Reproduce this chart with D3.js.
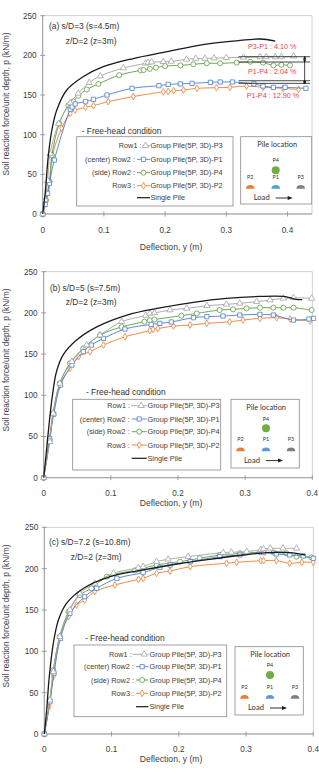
<!DOCTYPE html>
<html>
<head>
<meta charset="utf-8">
<script src="https://cdn.jsdelivr.net/npm/d3@7"></script>
<style>
  body { margin: 0; background: #fff; }
  svg { display: block; font-family: "Liberation Sans", Arial, sans-serif; }
</style>
</head>
<body>
<svg id="chart" width="319" height="774"></svg>
<script>
// ---- data: [deflection y (m), p (kN/m)] ----
const aSingle = [[0,0],[0.004,26],[0.009,72],[0.015,106],[0.023,131],[0.039,156],[0.066,173],[0.099,185.7],[0.148,196],[0.203,204.6],[0.257,213],[0.312,218],[0.355,220.6],[0.38,218]];
const aP3 = [[0,0],[0.004,18],[0.008,42],[0.012,76],[0.026,114],[0.045,140],[0.058,152],[0.076,165.5],[0.094,174],[0.132,184],[0.168,190],[0.172,191],[0.178,191.5],[0.197,192],[0.21,192.4],[0.235,195],[0.25,196],[0.265,196],[0.28,196.5],[0.30,197],[0.328,197.5],[0.355,198],[0.365,198],[0.38,198],[0.39,198],[0.41,199]];
const aP1 = [[0,0],[0.004,12],[0.008,26],[0.011,38.7],[0.019,68],[0.045,132],[0.048,135],[0.053,138.7],[0.07,141.6],[0.083,144.5],[0.105,150],[0.146,158.4],[0.19,161.8],[0.205,163.4],[0.225,164],[0.244,164.7],[0.274,166],[0.29,166.4],[0.31,166.4],[0.345,164],[0.36,161.3],[0.377,159.7],[0.396,159.7],[0.43,158.4]];
const aP4 = [[0,0],[0.005,17],[0.011,41],[0.015,74],[0.027,114],[0.042,137],[0.046,139],[0.05,142],[0.058,149],[0.072,157],[0.091,164],[0.125,175],[0.16,181],[0.165,181.5],[0.175,183],[0.185,184.5],[0.2,186.5],[0.225,187.4],[0.246,188.7],[0.268,190],[0.29,190],[0.317,190.8],[0.339,192],[0.36,190.8],[0.377,187.4],[0.39,188],[0.404,187.4]];
const aP2 = [[0,0],[0.007,17.6],[0.012,40.8],[0.016,74.4],[0.031,108],[0.045,127],[0.053,131],[0.07,134.5],[0.083,136.6],[0.107,141.6],[0.148,148],[0.197,154],[0.205,154.5],[0.214,155.5],[0.23,156.3],[0.252,158.4],[0.284,159.2],[0.306,159.7],[0.333,161.3],[0.36,159.7],[0.393,158.4],[0.418,157]];

const bSingle = [[0,0],[0.0035,27.5],[0.0084,68],[0.013,100],[0.019,128.6],[0.029,149],[0.049,167],[0.079,183],[0.124,197.4],[0.173,206],[0.223,212.8],[0.272,217.6],[0.322,220],[0.357,220],[0.374,216.8],[0.385,216]];
const bP3 = [[0,0],[0.009,43.7],[0.014,78],[0.024,114.5],[0.042,140.8],[0.064,161],[0.084,173],[0.116,189.3],[0.152,197],[0.158,199.4],[0.165,200],[0.188,203.5],[0.213,205.5],[0.243,208.7],[0.272,210.4],[0.292,211.6],[0.317,213.6],[0.337,215.6],[0.357,217.6],[0.372,218.4],[0.399,217.6]];
const bP1 = [[0,0],[0.009,47.7],[0.015,77],[0.025,112.5],[0.042,136.7],[0.059,153],[0.071,161],[0.089,169],[0.121,180.4],[0.16,186],[0.173,187.3],[0.19,189],[0.223,194.2],[0.243,195.4],[0.267,196.2],[0.292,197.4],[0.322,198.2],[0.342,197.4],[0.372,191.3],[0.395,192.5],[0.402,193.4]];
const bP4 = [[0,0],[0.009,45.7],[0.014,78],[0.024,114.5],[0.039,138.8],[0.059,157],[0.084,173],[0.116,183],[0.15,189.3],[0.158,191],[0.165,192],[0.205,196.6],[0.228,199.4],[0.262,203.5],[0.282,204.3],[0.302,205.5],[0.322,206.3],[0.342,206.3],[0.357,206.3],[0.372,206.3],[0.399,203.5]];
const bP2 = [[0,0],[0.008,45.7],[0.014,78],[0.024,112.5],[0.039,132.7],[0.052,146.8],[0.069,153],[0.089,161],[0.121,171],[0.158,178.5],[0.163,180],[0.17,181],[0.193,184],[0.218,185.3],[0.243,187.3],[0.277,189.3],[0.297,191.3],[0.322,193.4],[0.347,194.2],[0.367,192.6],[0.397,190.1]];

const cSingle = [[0,0],[0.0035,29],[0.0074,69.4],[0.0134,109.7],[0.021,137.9],[0.033,158],[0.058,176],[0.098,190.3],[0.147,198.4],[0.197,205.6],[0.246,211.3],[0.296,216.5],[0.331,219.4],[0.365,219.4],[0.388,216.5]];
const cP3 = [[0,0],[0.0084,41],[0.0134,75.4],[0.023,117.7],[0.038,150],[0.053,170],[0.075,182.3],[0.103,194.4],[0.14,201],[0.147,202.4],[0.167,208.5],[0.184,211.3],[0.214,214.5],[0.266,219.4],[0.278,219.8],[0.301,220.6],[0.322,223],[0.326,223.8],[0.336,224.6],[0.355,224.6],[0.375,224.6]];
const cP1 = [[0,0],[0.0084,39],[0.0144,73.4],[0.024,115.7],[0.038,146],[0.06,166],[0.078,176.2],[0.108,188.3],[0.147,195.2],[0.172,201.6],[0.187,204.4],[0.217,208.5],[0.261,214.5],[0.291,216.5],[0.326,219.4],[0.345,217.7],[0.365,216.5],[0.385,215.3],[0.4,212.5]];
const cP4 = [[0,0],[0.0084,41],[0.0134,77.4],[0.023,117.7],[0.036,148],[0.053,168],[0.07,176.2],[0.093,190.3],[0.135,198],[0.142,199.2],[0.167,204.4],[0.202,208.5],[0.231,212.5],[0.261,216.5],[0.291,218.5],[0.321,219.8],[0.341,219.4],[0.36,218.5],[0.375,214.5],[0.397,213.7]];
const cP2 = [[0,0],[0.0074,33],[0.0134,69.4],[0.023,117.7],[0.036,142],[0.048,156],[0.06,162],[0.075,172.2],[0.105,180.2],[0.14,187],[0.147,188.3],[0.167,194.4],[0.187,197.2],[0.217,202.4],[0.271,206.5],[0.286,207.7],[0.322,209.5],[0.326,209.7],[0.345,209.7],[0.365,206.5],[0.383,207.7],[0.4,207.7]];

// panel (a) difference annotation
const annoLevels = [198.3, 191.6, 168, 164.7];
const annoTexts = ["P3-P1 : 4.10 %", "P1-P4 : 2.04 %", "P1-P4 : 12.90 %"];

const yTicks = [0, 50, 100, 150, 200, 250];
const xTicks = [0, 0.1, 0.2, 0.3, 0.4];

const rowLabels = ["Row1 :", "(center) Row2 :", "(side) Row2 :", "Row3 :"];
const seriesNames = ["Group Pile(5P, 3D)-P3", "Group Pile(5P, 3D)-P1", "Group Pile(5P, 3D)-P4", "Group Pile(5P, 3D)-P2"];

const styles = [
  { color: "#a3a3a3", sym: d3.symbolTriangle, size: 17 },
  { color: "#4a7fd0", sym: d3.symbolSquare, size: 18 },
  { color: "#5c9e3c", sym: d3.symbolCircle, size: 20 },
  { color: "#ee7d33", sym: d3.symbolDiamond, size: 13 },
];

const panels = [
  { title: "(a) s/D=3 (s=4.5m)", single: aSingle, series: [aP3, aP1, aP4, aP2], xMax: 0.44,
    L: 42.7, R: 312, T: 15.7, B: 214, tx: 49, ty: 29, zx: 65.7, zy: 43.7,
    fh: [81.7, 134], leg: { x0: 76.7, x1: 233, y0: 136.7, y1: 206, rows: [145.7, 159.3, 172.7, 185.7, 197.7], lr: 141.5, s0: 137, s1: 150, tx: 150.5 },
    pile: { x0: 240.7, x1: 311.7, y0: 136.7, y1: 204, p4: 23.5, dot: 33.5 }, xl: 230, xt: 247, yc: 104, anno: true },
  { title: "(b) s/D=5 (s=7.5m)", single: bSingle, series: [bP3, bP1, bP4, bP2], xMax: 0.4,
    L: 43.7, R: 312.3, T: 271.7, B: 477.7, tx: 50, ty: 291, zx: 65.7, zy: 305.3,
    fh: [86, 394.7], leg: { x0: 72.7, x1: 220.7, y0: 399.3, y1: 470, rows: [405.7, 419, 431.7, 445, 458.3], lr: 130, s0: 131.7, s1: 146.7, tx: 147.5 },
    pile: { x0: 231, x1: 299.3, y0: 399.3, y1: 468, p4: 19.7, dot: 29 }, xl: 493.3, xt: 503.3, yc: 360, anno: false },
  { title: "(c) s/D=7.2 (s=10.8m)", single: cSingle, series: [cP3, cP1, cP4, cP2], xMax: 0.4,
    L: 44.3, R: 313.3, T: 527.3, B: 734, tx: 49, ty: 544.7, zx: 70.7, zy: 559.7,
    fh: [85, 641.3], leg: { x0: 74, x1: 226.7, y0: 645, y1: 716.7, rows: [654.3, 666.7, 680, 693.3, 706.7], lr: 131.7, s0: 136, s1: 148.3, tx: 149.5 },
    pile: { x0: 235, x1: 303.3, y0: 646.7, y1: 715, p4: 18.3, dot: 28.3 }, xl: 749.3, xt: 759.3, yc: 616, anno: false },
];

const svg = d3.select("#chart");
const axisGrey = "#8c8c8c";
const txt = "#404040";

panels.forEach((p, pi) => {
  const x = d3.scaleLinear().domain([0, p.xMax]).range([p.L, p.R]);
  const y = d3.scaleLinear().domain([0, 250]).range([p.B, p.T]);
  const g = svg.append("g");

  // plot frame
  g.append("rect").attr("x", p.L).attr("y", p.T).attr("width", p.R - p.L).attr("height", p.B - p.T)
    .attr("fill", "none").attr("stroke", "#c8c8c8").attr("stroke-width", 0.8);

  // axes
  g.append("line").attr("x1", p.L).attr("x2", p.L).attr("y1", p.T).attr("y2", p.B).attr("stroke", axisGrey).attr("stroke-width", 0.8);
  g.append("line").attr("x1", p.L).attr("x2", p.R).attr("y1", p.B).attr("y2", p.B).attr("stroke", axisGrey).attr("stroke-width", 0.8);
  yTicks.forEach((t) => {
    g.append("line").attr("x1", p.L - 2.5).attr("x2", p.L + 2.5).attr("y1", y(t)).attr("y2", y(t)).attr("stroke", axisGrey).attr("stroke-width", 0.8);
    g.append("text").attr("x", p.L - 6).attr("y", y(t) + 2.9).attr("text-anchor", "end")
      .attr("font-size", 8.2).attr("fill", txt).text(t);
  });
  xTicks.forEach((t) => {
    g.append("line").attr("x1", x(t)).attr("x2", x(t)).attr("y1", p.B - 2.5).attr("y2", p.B + 2.5).attr("stroke", axisGrey).attr("stroke-width", 0.8);
    g.append("text").attr("x", x(t)).attr("y", p.xl + 2.9).attr("text-anchor", "middle")
      .attr("font-size", 8.2).attr("fill", txt).text(t);
  });
  g.append("text").attr("x", 171).attr("y", p.xt + 3.1).attr("text-anchor", "middle")
    .attr("font-size", 8.6).attr("fill", txt).text("Deflection, y (m)");
  g.append("text").attr("transform", `translate(9,${p.yc}) rotate(-90)`).attr("text-anchor", "middle")
    .attr("font-size", 8.4).attr("fill", txt).text("Soil reaction force/unit depth, p (kN/m)");

  // curves
  const clipId = "clip" + pi;
  svg.append("clipPath").attr("id", clipId).append("rect")
    .attr("x", p.L - 4).attr("y", p.T).attr("width", p.R - p.L + 8).attr("height", p.B - p.T + 4);
  const plot = g.append("g").attr("clip-path", `url(#${clipId})`);
  const line = d3.line().x((d) => x(d[0])).y((d) => y(d[1])).curve(d3.curveCatmullRom.alpha(0.5));

  [3, 2, 1, 0].forEach((si) => {
    const st = styles[si];
    const data = p.series[si];
    plot.append("path").datum(data).attr("d", line).attr("fill", "none").attr("stroke", st.color).attr("stroke-width", 0.9);
    plot.selectAll(null).data(data).join("path")
      .attr("transform", (d) => `translate(${x(d[0])},${y(d[1])})`)
      .attr("d", d3.symbol().type(st.sym).size(st.size))
      .attr("fill", "#fff").attr("stroke", st.color).attr("stroke-width", 0.8);
  });
  plot.append("path").datum(p.single).attr("d", line).attr("fill", "none").attr("stroke", "#1a1a1a").attr("stroke-width", 1.3);

  // titles
  g.append("text").attr("x", p.tx).attr("y", p.ty).attr("font-size", 8.4).attr("fill", "#333").text(p.title);
  g.append("text").attr("x", p.zx).attr("y", p.zy).attr("font-size", 8.4).attr("fill", "#333").text("z/D=2 (z=3m)");
  g.append("text").attr("x", p.fh[0]).attr("y", p.fh[1]).attr("font-size", 8.4).attr("fill", "#333").text("- Free-head condition");

  // legend
  const lg = p.leg;
  g.append("rect").attr("x", lg.x0).attr("y", lg.y0).attr("width", lg.x1 - lg.x0).attr("height", lg.y1 - lg.y0)
    .attr("fill", "#fff").attr("stroke", "#8a8a8a").attr("stroke-width", 0.8);
  styles.forEach((st, i) => {
    const yy = lg.rows[i];
    const lr = i === 0 ? lg.lr : lg.s0 - 2;
    g.append("text").attr("x", lr).attr("y", yy + 2.6).attr("text-anchor", "end").attr("font-size", 7.3).attr("fill", txt).text(rowLabels[i]);
    g.append("line").attr("x1", i === 0 ? lg.lr + 1 : lg.s0).attr("x2", lg.s1).attr("y1", yy).attr("y2", yy).attr("stroke", st.color).attr("stroke-width", 0.9);
    g.append("path").attr("transform", `translate(${(lg.s0 + lg.s1) / 2 + (i === 0 ? 2 : 0)},${yy})`)
      .attr("d", d3.symbol().type(st.sym).size(st.size)).attr("fill", "#fff").attr("stroke", st.color).attr("stroke-width", 0.8);
    g.append("text").attr("x", lg.tx).attr("y", yy + 2.6).attr("font-size", 7.3).attr("fill", txt).text(seriesNames[i]);
  });
  const yy5 = lg.rows[4];
  g.append("line").attr("x1", lg.s0).attr("x2", lg.s1).attr("y1", yy5).attr("y2", yy5).attr("stroke", "#1a1a1a").attr("stroke-width", 1.2);
  g.append("text").attr("x", lg.tx).attr("y", yy5 + 2.6).attr("font-size", 7.3).attr("fill", txt).text("Single Pile");

  // pile location box
  const pl = p.pile;
  g.append("rect").attr("x", pl.x0).attr("y", pl.y0).attr("width", pl.x1 - pl.x0).attr("height", pl.y1 - pl.y0)
    .attr("fill", "#fff").attr("stroke", "#8a8a8a").attr("stroke-width", 0.8);
  const pf = '"Lato", "Open Sans", sans-serif';
  g.append("text").attr("x", (pl.x0 + pl.x1) / 2 + 1).attr("y", pl.y0 + 10.3).attr("text-anchor", "middle")
    .attr("font-family", pf).attr("font-size", 7.4).attr("fill", "#333").text("Pile location");
  const cx1 = pl.x0 + 35;
  g.append("text").attr("x", cx1).attr("y", pl.y0 + pl.p4 + 2).attr("text-anchor", "middle")
    .attr("font-family", pf).attr("font-size", 5.4).attr("fill", "#333").text("P4");
  g.append("circle").attr("cx", cx1).attr("cy", pl.y0 + pl.dot).attr("r", 4).attr("fill", "#70ad47");
  const piles = [["P2", 9.5, "#ee7d33"], ["P1", 35, "#5b9bd5"], ["P3", 60, "#7f7f7f"]];
  piles.forEach(([lab, dx, col]) => {
    const px = pl.x0 + dx;
    g.append("text").attr("x", px).attr("y", pl.y0 + 42).attr("text-anchor", "middle")
      .attr("font-family", pf).attr("font-size", 5.4).attr("fill", "#333").text(lab);
    const cy = pl.y0 + 52;
    g.append("path").attr("d", `M${px - 4.3},${cy} A4.3,3.8 0 0 1 ${px + 4.3},${cy} Z`).attr("fill", col);
  });
  g.append("text").attr("x", pl.x0 + 13).attr("y", pl.y0 + 63.5).attr("font-family", pf).attr("font-size", 7.6).attr("fill", "#333").text("Load");
  const ay = pl.y0 + 61.3;
  g.append("line").attr("x1", pl.x0 + 35).attr("x2", pl.x0 + 49).attr("y1", ay).attr("y2", ay).attr("stroke", "#1a1a1a").attr("stroke-width", 0.9);
  g.append("path").attr("d", `M${pl.x0 + 52},${ay} L${pl.x0 + 47},${ay - 2} L${pl.x0 + 47},${ay + 2} Z`).attr("fill", "#1a1a1a");

  // difference annotation (panel a only)
  if (p.anno) {
    annoLevels.forEach((v) => {
      g.append("line").attr("x1", x(0.32)).attr("x2", x(0.437)).attr("y1", y(v)).attr("y2", y(v)).attr("stroke", "#1a1a1a").attr("stroke-width", 0.8);
    });
    const vx = x(0.428);
    g.append("line").attr("x1", vx).attr("x2", vx).attr("y1", y(annoLevels[0])).attr("y2", y(annoLevels[3])).attr("stroke", "#1a1a1a").attr("stroke-width", 0.8);
    [annoLevels[0], annoLevels[2]].forEach((v) => {
      g.append("path").attr("d", `M${vx},${y(v) - 1} L${vx - 1.6},${y(v) + 2.5} L${vx + 1.6},${y(v) + 2.5} Z`).attr("fill", "#1a1a1a");
    });
    [annoLevels[1], annoLevels[3]].forEach((v) => {
      g.append("path").attr("d", `M${vx},${y(v) + 1} L${vx - 1.6},${y(v) - 2.5} L${vx + 1.6},${y(v) - 2.5} Z`).attr("fill", "#1a1a1a");
    });
    const ty = [49.3, 73.8, 98.3];
    const tx = [248, 248, 246.7];
    annoTexts.forEach((t, i) => {
      g.append("text").attr("x", tx[i]).attr("y", ty[i]).attr("font-size", 7.2).attr("fill", "#ee3d4b").text(t);
    });
  }
});
</script>
</body>
</html>
